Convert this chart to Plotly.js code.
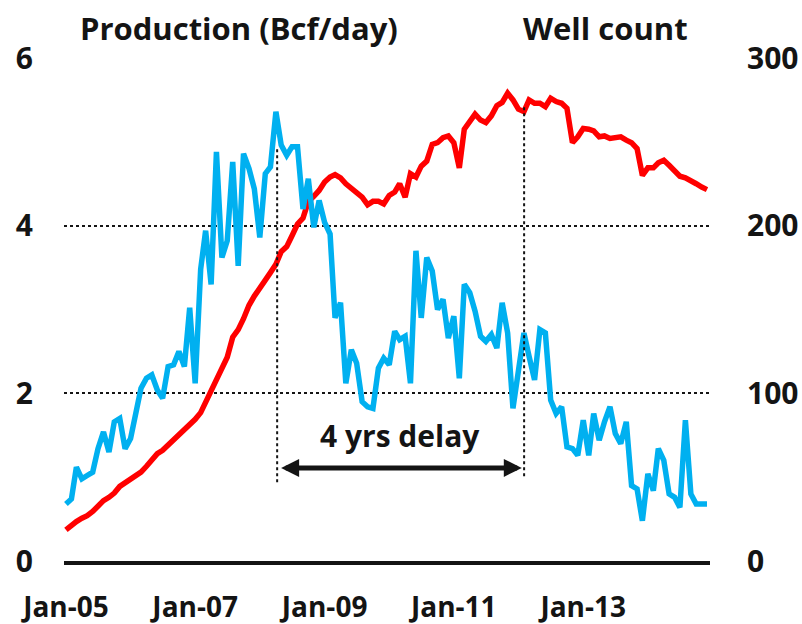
<!DOCTYPE html>
<html>
<head>
<meta charset="utf-8">
<script src="https://cdn.plot.ly/plotly-3.0.1.min.js"></script>
<style>html,body{margin:0;padding:0;background:#fff;}#chart{width:802px;height:624px;}</style>
</head>
<body>
<div id="chart"></div>
<script>
// Monthly series, Jan 2005 .. Dec 2014
const startYear = 2005;
const production = [
  0.37,0.43,0.47,0.51,0.54,0.59,0.66,0.72,0.76,0.81,0.89,0.93,
  0.97,1.01,1.06,1.13,1.21,1.28,1.32,1.38,1.45,1.51,1.56,1.62,
  1.69,1.77,1.90,2.04,2.17,2.30,2.43,2.67,2.76,2.89,3.05,3.16,
  3.27,3.35,3.44,3.54,3.69,3.75,3.88,4.02,4.09,4.29,4.35,4.42,
  4.52,4.58,4.61,4.57,4.50,4.45,4.40,4.34,4.25,4.29,4.29,4.26,
  4.36,4.40,4.50,4.34,4.62,4.58,4.71,4.77,4.97,4.99,5.05,5.07,
  4.99,4.69,5.15,5.25,5.33,5.26,5.23,5.31,5.43,5.47,5.58,5.50,
  5.39,5.36,5.50,5.46,5.46,5.42,5.52,5.48,5.46,5.40,4.99,5.06,
  5.16,5.15,5.13,5.06,5.07,5.04,5.05,5.06,5.02,4.99,4.92,4.60,
  4.69,4.69,4.75,4.78,4.72,4.66,4.59,4.57,4.54,4.50,4.46,4.43
];
const wellCount = [
  34,37,56,49,51,53,67,77,65,83,85,67,
  73,88,103,109,111,102,97,116,117,125,116,151,
  106,174,197,165,244,181,191,238,176,243,234,222,
  193,231,235,268,248,242,247,247,210,228,199,215,
  202,195,145,154,106,126,118,95,92,91,115,121,
  117,137,132,134,106,185,145,181,173,150,156,133,
  146,109,165,160,149,134,131,135,127,154,136,91,
  116,136,122,108,138,136,96,88,92,68,67,63,
  84,63,88,72,83,92,76,70,83,45,43,24,
  52,42,67,60,40,38,32,84,40,34,34,34
];
const leftTitle = "Production (Bcf/day)";
const rightTitle = "Well count";
const delayLabel = "4 yrs delay";
const delayStart = "2008-04-08";
const delayEnd = "2012-02-02";

const months = production.map((_, i) => {
  const y = startYear + Math.floor(i / 12);
  const m = (i % 12) + 1;
  return y + "-" + String(m).padStart(2, "0") + "-01";
});

const FONT = "Open Sans, Noto Sans, sans-serif";
const INK = "#141414";

const traces = [
  {x: months, y: wellCount, yaxis: "y2", type: "scatter", mode: "lines",
   line: {color: "#00B0F0", width: 5.5}, hoverinfo: "skip"},
  {x: months, y: production, yaxis: "y", type: "scatter", mode: "lines",
   line: {color: "#FF0000", width: 5.5}, hoverinfo: "skip"}
];

const layout = {
  width: 802, height: 624,
  margin: {l: 64, r: 92, t: 58, b: 63},
  paper_bgcolor: "#fff", plot_bgcolor: "#fff",
  showlegend: false,
  font: {family: FONT, color: INK},
  xaxis: {
    type: "date",
    range: ["2004-12-21", "2014-12-18"],
    tick0: "2005-01-01", dtick: "M24", tickformat: "%b-%y",
    showgrid: false, zeroline: false,
    showline: true, linecolor: INK, linewidth: 4,
    ticks: "", ticklabelstandoff: 18,
    tickfont: {family: FONT, size: 28, weight: "bold", color: INK}
  },
  yaxis: {
    range: [0, 6], dtick: 2, tick0: 0,
    showgrid: true, gridcolor: INK, gridwidth: 2, griddash: "dot",
    zeroline: false, showline: false, ticks: "", ticklabelstandoff: 30,
    tickfont: {family: FONT, size: 30, weight: "bold", color: INK}
  },
  yaxis2: {
    overlaying: "y", side: "right",
    range: [0, 300], dtick: 100, tick0: 0,
    showgrid: false, zeroline: false, showline: false, ticks: "", ticklabelstandoff: 36,
    tickfont: {family: FONT, size: 30, weight: "bold", color: INK}
  },
  shapes: [
    {type: "line", xref: "x", yref: "y", x0: delayStart, x1: delayStart, y0: 0.94, y1: 4.92,
     line: {color: INK, width: 2, dash: "dot"}},
    {type: "line", xref: "x", yref: "y", x0: delayEnd, x1: delayEnd, y0: 1.01, y1: 5.43,
     line: {color: INK, width: 2, dash: "dot"}}
  ],
  annotations: [
    {xref: "paper", yref: "paper", x: 0.271, y: 1.06, text: leftTitle, showarrow: false,
     xanchor: "center", yanchor: "middle",
     font: {family: FONT, size: 31, weight: "bold", color: INK}},
    {xref: "paper", yref: "paper", x: 0.8375, y: 1.06, text: rightTitle, showarrow: false,
     xanchor: "center", yanchor: "middle",
     font: {family: FONT, size: 31, weight: "bold", color: INK}},
    {xref: "x", yref: "y", x: "2010-03-01", y: 1.5, text: delayLabel, showarrow: false,
     xanchor: "center", yanchor: "middle",
     font: {family: FONT, size: 30, weight: "bold", color: INK}},
    {xref: "x", yref: "y", axref: "x", ayref: "y",
     x: "2012-01-20", y: 1.11, ax: "2008-04-22", ay: 1.11, text: "",
     showarrow: true, arrowside: "end+start", arrowhead: 2, startarrowhead: 2,
     arrowsize: 0.72, startarrowsize: 0.72, arrowwidth: 5, arrowcolor: INK,
     standoff: 0, startstandoff: 0}
  ]
};

Plotly.newPlot("chart", traces, layout, {staticPlot: true, displayModeBar: false});
</script>
</body>
</html>
